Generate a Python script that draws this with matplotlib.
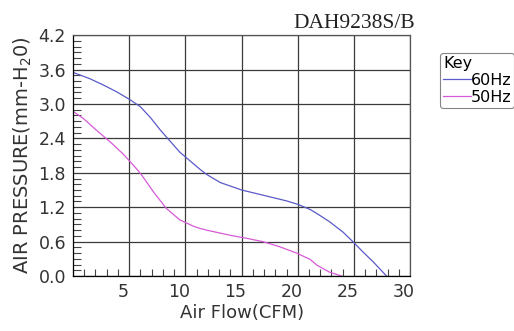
import numpy as np
import matplotlib.pyplot as plt
from matplotlib.ticker import MultipleLocator
from matplotlib.transforms import ScaledTranslation

# values
flow_60 = [0, 1.5, 2.7, 3.9, 5.1, 6.0, 6.9, 7.75, 8.6, 9.5, 10.1, 10.7, 11.3, 11.9,
           13.1, 15.0, 16.9, 19.0, 20.0, 21.1, 21.7, 22.8, 24.0, 24.9, 25.8, 26.7, 27.9]
pres_60 = [3.55, 3.44, 3.33, 3.21, 3.07, 2.95, 2.76, 2.55, 2.36, 2.16, 2.06, 1.96, 1.86, 1.77,
           1.63, 1.50, 1.41, 1.31, 1.25, 1.16, 1.09, 0.95, 0.77, 0.60, 0.42, 0.25, 0.0]

flow_50 = [0, 0.9, 2.1, 3.3, 4.5, 5.1, 5.7, 6.15, 7.15, 8.3, 9.5, 10.7, 11.3, 11.9,
           14.0, 15.4, 16.9, 18.4, 19.9, 21.1, 21.7, 22.8, 23.9]
pres_50 = [2.87, 2.75, 2.54, 2.34, 2.12, 1.99, 1.86, 1.75, 1.47, 1.18, 0.98, 0.87, 0.83, 0.80,
           0.71, 0.66, 0.60, 0.51, 0.40, 0.29, 0.19, 0.07, 0.0]

xticks = [5, 10, 15, 20, 25, 30]
yticks = [0.0, 0.6, 1.2, 1.8, 2.4, 3.0, 3.6, 4.2]

fig = plt.figure(figsize=(5.14, 3.31), dpi=100)
ax = fig.add_axes([0.142, 0.166, 0.656, 0.728])

ax.plot(flow_60, pres_60, color='#5a5ac8', lw=0.9, label='60Hz')
ax.plot(flow_50, pres_50, color='#d75ad7', lw=0.9, label='50Hz')

ax.set_xlim(0, 30)
ax.set_ylim(0, 4.2)
ax.set_xticks(xticks)
ax.set_yticks(yticks)
ax.set_yticklabels([f"{v:.1f}" for v in yticks])
ax.xaxis.set_minor_locator(MultipleLocator(1))
ax.yaxis.set_minor_locator(MultipleLocator(0.1))
ax.tick_params(which='major', length=0, labelsize=12.5, labelcolor='#333333', pad=5)
ax.tick_params(which='minor', direction='in', length=6, width=0.8, color='#444444')
ax.tick_params(axis='x', which='minor', length=5)
ax.grid(True, which='major', color='#3a3a3a', lw=0.9)

off = ScaledTranslation(-6 / 100, 0, fig.dpi_scale_trans)
for lbl in ax.get_xticklabels():
    lbl.set_transform(lbl.get_transform() + off)

for s in ax.spines.values():
    s.set_color('#555555')
    s.set_linewidth(0.9)
ax.spines['left'].set_color('black')
ax.spines['bottom'].set_color('black')

ax.set_xlabel('Air Flow(CFM)', fontsize=13, color='#333333', labelpad=2)
ax.set_ylabel('AIR PRESSURE(mm-H$_2$0)', fontsize=14, color='#333333', labelpad=3)

fig.text(0.808, 0.915, 'DAH9238S/B', family='Liberation Serif', fontsize=15.5,
         ha='right', va='baseline', color='#222222')

leg = ax.legend(title='Key', loc='upper left', bbox_to_anchor=(1.089, 0.925),
                fontsize=11.5, title_fontsize=11.5, handlelength=1.7,
                handletextpad=0.0, borderpad=0.2, labelspacing=0.1,
                borderaxespad=0, frameon=True, fancybox=True)
leg._legend_box.align = 'left'
leg.get_frame().set_edgecolor('#666666')
leg.get_frame().set_linewidth(0.8)

fig.savefig('out.png', dpi=100)
